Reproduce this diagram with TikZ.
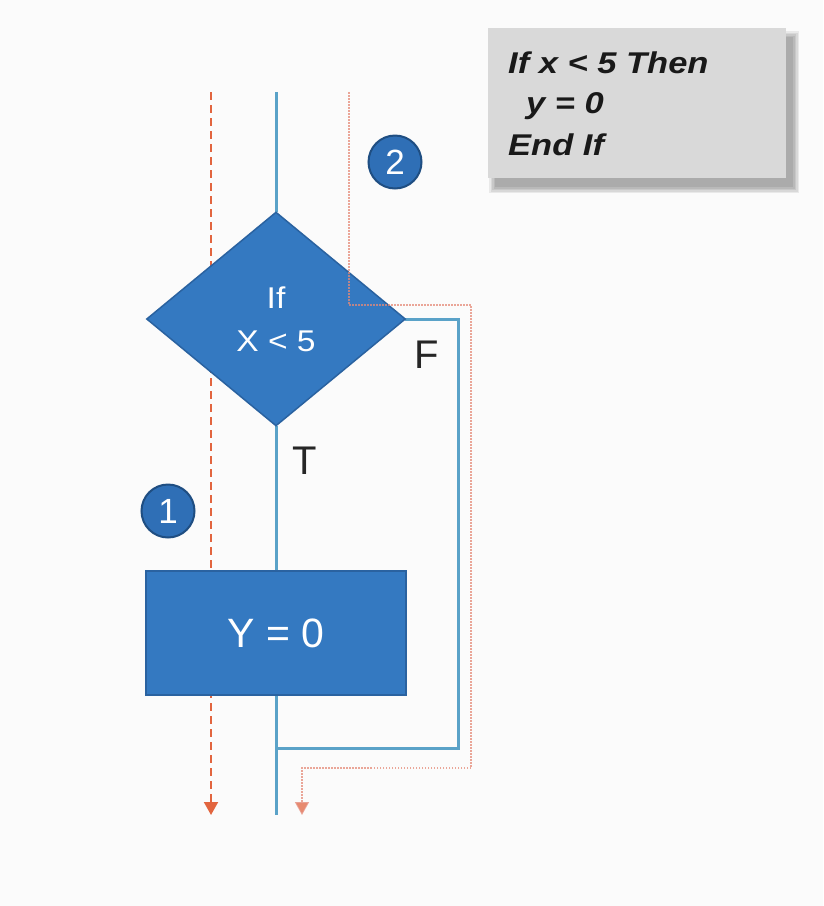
\documentclass[tikz,border=0pt]{standalone}
\usepackage{fontspec}
\setmainfont{Liberation Sans}
\newfontfamily\widefont[FakeStretch=1.12]{Liberation Sans}
\newfontfamily\codefont[FakeStretch=1.15]{Liberation Sans}
\usetikzlibrary{shapes.geometric,arrows.meta}
\definecolor{bg}{HTML}{FBFBFB}
\definecolor{shapeblue}{HTML}{3479C1}
\definecolor{shapeedge}{HTML}{2A62A0}
\definecolor{circblue}{HTML}{2F6FB6}
\definecolor{circedge}{HTML}{1F4E82}
\definecolor{flowline}{HTML}{5AA2C8}
\definecolor{redpath}{HTML}{E2653F}
\definecolor{redlight}{HTML}{E58A78}
\definecolor{codegray}{HTML}{D9D9D9}
\tikzset{
  decisionbox/.style={diamond, draw=shapeedge, line width=1.5pt, fill=shapeblue,
    minimum width=259pt, minimum height=214pt, inner sep=0pt, text=white,
    align=center, font=\widefont\fontsize{30}{43}\selectfont},
  actionbox/.style={rectangle, draw=shapeedge, line width=1.5pt, fill=shapeblue,
    minimum width=260pt, minimum height=124pt, inner sep=0pt, text=white,
    font=\fontsize{41}{48}\selectfont},
  stepnum/.style={circle, draw=circedge, line width=2pt, fill=circblue,
    minimum size=53pt, inner sep=0pt, text=white, font=\fontsize{35}{40}\selectfont},
  branchlabel/.style={text=black!85, font=\fontsize{40}{46}\selectfont, inner sep=0pt},
  codebox/.style={rectangle, fill=codegray, minimum width=298pt, minimum height=150pt},
  softshadow/.style={fill=black, opacity=0.07},
  codeline/.style={anchor=base west, inner sep=0pt, text=black!90,
    font=\codefont\bfseries\itshape\fontsize{30}{34}\selectfont},
  flow/.style={draw=flowline, line width=3pt},
  pathone/.style={draw=redpath, line width=2pt, dash pattern=on 8pt off 5pt,
    -{Triangle[width=14pt,length=13pt]}},
  pathtwo/.style={draw=redlight, line width=1.6pt, dash pattern=on 1.5pt off 1.5pt,
    -{Triangle[width=14pt,length=13pt,fill=redpath]}},
}
\begin{document}
\begin{tikzpicture}[x=1pt,y=-1pt]
\useasboundingbox[fill=bg] (0,0) rectangle (823,906);
% coordinates for free ends
\coordinate (flowtop) at (276,92);
\coordinate (flowbot) at (276,815);
\coordinate (fcorner) at (458,748);
\coordinate (fjoin) at (276,748);
\coordinate (ponetop) at (211,92);
\coordinate (ponebot) at (211,815);
\coordinate (ptwotop) at (349,92);
\coordinate (ptwoa) at (349,305);
\coordinate (ptwob) at (471,305);
\coordinate (ptwoc) at (471,768);
\coordinate (ptwod) at (302,768);
\coordinate (ptwobot) at (302,815);
% path 1 (behind the shapes)
\draw[pathone] (ponetop) -- (ponebot);
% flow lines
\draw[flow] (flowtop) -- (276,212);
\draw[flow] (276,426) -- (276,571);
\draw[flow] (276,695) -- (flowbot);
\draw[flow] (405,319) -| (fcorner) -- (fjoin);
% shapes
\node[decisionbox] (dec) at (276,319) {If\\X < 5};
\node[actionbox] (act) at (276,633) {Y = 0};
% path 2
\draw[pathtwo, opacity=0.75] (ptwotop) -- (ptwoa) -- (ptwob) -- (ptwoc) -- (ptwod) -- (ptwobot);
% labels
\node[branchlabel] (flab) at (427,355) {F};
\node[branchlabel] (tlab) at (305,461) {T};
\node[stepnum] (two) at (395,162) {2};
\node[stepnum] (one) at (168,511) {1};
% code box with a soft shadow
\foreach \s in {0,1.5,3,4.5,6} {
  \fill[softshadow] (488+7-\s,28+9-\s) rectangle (786+7+\s,178+9+\s);
}
\node[codebox] (code) at (637,103) {};
\node[codeline] (codea) at (508,73) {If x < 5 Then};
\node[codeline] (codeb) at (526,113) {y = 0};
\node[codeline] (codec) at (508,155) {End If};
\end{tikzpicture}
\end{document}
